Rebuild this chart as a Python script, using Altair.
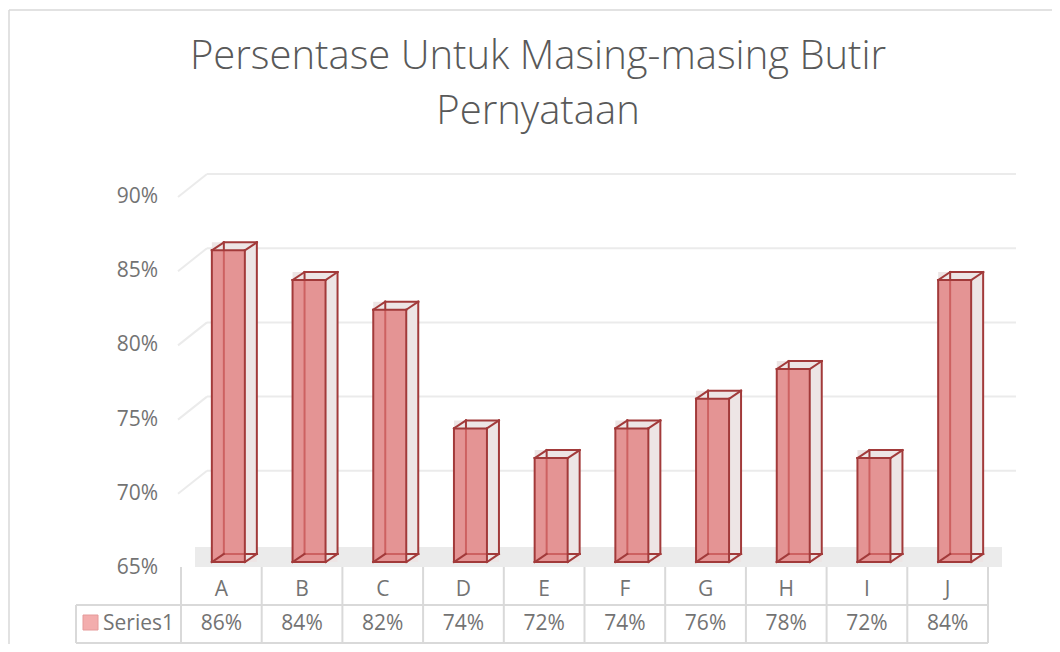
import altair as alt
import pandas as pd

# ---- data ----
categories = ["A", "B", "C", "D", "E", "F", "G", "H", "I", "J"]
values = [86, 84, 82, 74, 72, 74, 76, 78, 72, 84]
y_ticks = [65, 70, 75, 80, 85, 90]
y_tick_labels = ["65%", "70%", "75%", "80%", "85%", "90%"]
series_name = "Series1"
title_lines = ["Persentase Untuk Masing-masing Butir", "Pernyataan"]

BASE = 65
FONT = "Open Sans"
TXT = "#595959"
LAB = "#737373"
EDGE = "#a23a3a"
GRID = "#ebebeb"
TABLE = "#d9d9d9"

bars = pd.DataFrame({
    "cat": categories,
    "idx": list(range(len(categories))),
    "value": values,
    "base": [BASE] * len(categories),
    "label": [f"{v}%" for v in values],
})
ticks = pd.DataFrame({"v": y_ticks, "lab": y_tick_labels})
grid = ticks[ticks.v > BASE]
n = len(categories)
bounds = pd.DataFrame({"b": [i - 0.5 for i in range(n + 1)]})
floor = pd.DataFrame({"l": [-0.5], "r": [n - 0.5], "base": [BASE]})

xs = alt.Scale(domain=[-0.5, n - 0.5], range=[173, 980])
ys = alt.Scale(domain=[65, 90], range=[554, 183])

def X(f): return alt.X(f"{f}:Q", scale=xs, axis=None)
def Y(f): return alt.Y(f"{f}:Q", scale=ys, axis=None)

layers = []

# border (top + left)
layers.append(alt.Chart(floor).mark_rule(color=TABLE, strokeWidth=1.5).encode(
    x=alt.value(1), x2=alt.value(1060), y=alt.value(2)))
layers.append(alt.Chart(floor).mark_rule(color=TABLE, strokeWidth=1.5).encode(
    x=alt.value(1), y=alt.value(2), y2=alt.value(660)))

# title (two lines)
for i, line in enumerate(title_lines):
    layers.append(alt.Chart(floor).mark_text(
        text=line, font=FONT, fontSize=40, color=TXT, baseline="alphabetic",
        align="center", fontWeight=300).encode(
        x=alt.value(530), y=alt.value(61 + 55 * i)))

# gridlines (diagonal + back wall)
layers.append(alt.Chart(grid).mark_rule(color=GRID, strokeWidth=2,
    xOffset=-3, x2Offset=26, yOffset=6, y2Offset=-17).encode(
    x=alt.X("x0:Q", scale=xs, axis=None), x2="x0:Q", y=Y("v"), y2="v:Q"
).transform_calculate(x0="-0.5"))
layers.append(alt.Chart(grid).mark_rule(color=GRID, strokeWidth=2,
    xOffset=26, x2Offset=28, yOffset=-17, y2Offset=-17).encode(
    x=alt.X("x0:Q", scale=xs, axis=None), x2="x1:Q", y=Y("v"), y2="v:Q"
).transform_calculate(x0="-0.5", x1=f"{n - 0.5}"))

# floor
layers.append(alt.Chart(floor).mark_rect(color="#ebebeb",
    xOffset=14, x2Offset=14, yOffset=-15, y2Offset=5).encode(
    x=X("l"), x2="r:Q", y=Y("base"), y2="base:Q"))

# y tick labels
layers.append(alt.Chart(ticks).mark_text(font=FONT, fontSize=21, color=LAB,
    align="right", baseline="middle", yOffset=6).encode(
    x=alt.value(150), y=Y("v"), text="lab:N"))

# bars: body (top + side faces)
XL, XR, DX, DY = -9.5, 23.5, 12, -8
layers.append(alt.Chart(bars).mark_rect(color="#ede5e5",
    xOffset=XL, x2Offset=XR + DX, yOffset=DY, y2Offset=0).encode(
    x=X("idx"), x2="idx:Q", y=Y("value"), y2="base:Q"))

def edge(x1o, y1f, y1o, x2o, y2f, y2o):
    return alt.Chart(bars).mark_rule(color=EDGE, strokeWidth=2, strokeCap="square",
        xOffset=x1o, x2Offset=x2o, yOffset=y1o, y2Offset=y2o).encode(
        x=X("idx"), x2="idx:Q", y=Y(y1f), y2=f"{y2f}:Q")

# back edges
layers.append(edge(XL + DX, "value", DY, XL + DX, "base", DY))
layers.append(edge(XR + DX, "value", DY, XR + DX, "base", DY))
layers.append(edge(XL + DX, "value", DY, XR + DX, "value", DY))
layers.append(edge(XL + DX, "base", DY, XR + DX, "base", DY))
# front face
layers.append(alt.Chart(bars).mark_rect(color="#df7272", opacity=0.7,
    xOffset=XL, x2Offset=XR).encode(
    x=X("idx"), x2="idx:Q", y=Y("value"), y2="base:Q"))
# front edges
layers.append(edge(XL, "value", 0, XL, "base", 0))
layers.append(edge(XR, "value", 0, XR, "base", 0))
layers.append(edge(XL, "value", 0, XR, "value", 0))
layers.append(edge(XL, "base", 0, XR, "base", 0))
# depth edges
layers.append(edge(XL, "value", 0, XL + DX, "value", DY))
layers.append(edge(XR, "value", 0, XR + DX, "value", DY))
layers.append(edge(XR, "base", 0, XR + DX, "base", DY))
layers.append(edge(XL, "base", 0, XL + DX, "base", DY))

# data table lines
layers.append(alt.Chart(bounds).mark_rule(color=TABLE, strokeWidth=2).encode(
    x=X("b"), y=alt.value(559), y2=alt.value(635)))
for yy in (597, 635):
    layers.append(alt.Chart(floor).mark_rule(color=TABLE, strokeWidth=2).encode(
        x=alt.value(68), x2=alt.value(980), y=alt.value(yy)))
layers.append(alt.Chart(floor).mark_rule(color=TABLE, strokeWidth=2).encode(
    x=alt.value(68), y=alt.value(597), y2=alt.value(635)))

# data table texts
layers.append(alt.Chart(bars).mark_text(font=FONT, fontSize=21, color=LAB,
    baseline="middle").encode(x=X("idx"), y=alt.value(582), text="cat:N"))
layers.append(alt.Chart(bars).mark_text(font=FONT, fontSize=21, color=LAB,
    baseline="middle").encode(x=X("idx"), y=alt.value(616), text="label:N"))

# legend key
layers.append(alt.Chart(floor).mark_square(size=225, filled=True, color="#f3adad",
    stroke="#e59a9a", strokeWidth=1, opacity=1).encode(
    x=alt.value(82.5), y=alt.value(614.5)))
layers.append(alt.Chart(floor).mark_text(text=series_name, font=FONT, fontSize=21,
    color=LAB, align="left", baseline="middle").encode(
    x=alt.value(95), y=alt.value(616)))

chart = alt.layer(*layers).properties(
    width=1044, height=636,
    autosize=alt.AutoSizeParams(type="none"),
    padding=0,
).configure_view(stroke=None)

chart.save("out.html", embed_options={"renderer": "svg", "actions": False})
